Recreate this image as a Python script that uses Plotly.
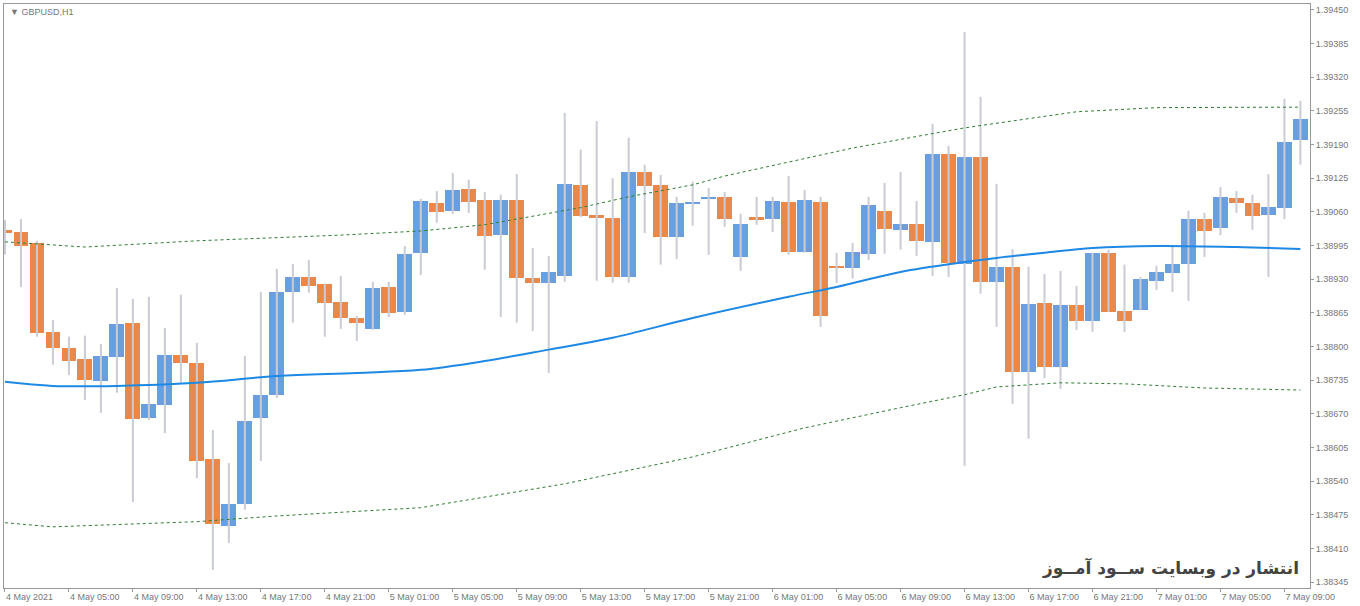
import plotly.graph_objects as go

# GBPUSD H1, 4 May 2021 01:00 onwards (one candle per hour)
opens = [1.39025, 1.39021, 1.39000, 1.38828, 1.38797, 1.38776, 1.38734, 1.38780, 1.38846, 1.38662,
         1.38687, 1.38784, 1.38768, 1.38583, 1.38454, 1.38496, 1.38662, 1.38707, 1.38905, 1.38934,
         1.38921, 1.38886, 1.38855, 1.38834, 1.38915, 1.38867, 1.38981, 1.39077, 1.39062, 1.39104,
         1.39083, 1.39015, 1.39083, 1.38932, 1.38923, 1.38936, 1.39112, 1.39054, 1.39048, 1.38934,
         1.39137, 1.39112, 1.39012, 1.39075, 1.39085, 1.39089, 1.38973, 1.39048, 1.39046, 1.39079,
         1.38983, 1.39079, 1.38956, 1.38952, 1.38979, 1.39062, 1.39025, 1.39037, 1.39002, 1.39172,
         1.38959, 1.39166, 1.38925, 1.38954, 1.38751, 1.38884, 1.38761, 1.38880, 1.38849, 1.38981,
         1.38869, 1.38871, 1.38927, 1.38942, 1.38959, 1.39046, 1.39029, 1.39087, 1.39077, 1.39054,
         1.39068, 1.39199]
highs = [1.39044, 1.39046, 1.39004, 1.38851, 1.38819, 1.38821, 1.38805, 1.38913, 1.38892, 1.38896,
         1.38836, 1.38900, 1.38807, 1.38639, 1.38575, 1.38782, 1.38905, 1.38950, 1.38959, 1.38967,
         1.38921, 1.38936, 1.38859, 1.38925, 1.38925, 1.38994, 1.39085, 1.39100, 1.39135, 1.39122,
         1.39098, 1.39093, 1.39133, 1.38990, 1.38975, 1.39251, 1.39180, 1.39235, 1.39125, 1.39203,
         1.39151, 1.39131, 1.39089, 1.39118, 1.39106, 1.39098, 1.39056, 1.39089, 1.39089, 1.39129,
         1.39102, 1.39089, 1.38981, 1.39000, 1.39089, 1.39116, 1.39137, 1.39081, 1.39230, 1.39187,
         1.39407, 1.39282, 1.39114, 1.38988, 1.38954, 1.38940, 1.38946, 1.38917, 1.38981, 1.38987,
         1.38958, 1.38934, 1.38956, 1.38994, 1.39062, 1.39058, 1.39108, 1.39100, 1.39093, 1.39133,
         1.39278, 1.39274]
lows = [1.38977, 1.38915, 1.38819, 1.38765, 1.38745, 1.38697, 1.38672, 1.38711, 1.38500, 1.38658,
        1.38633, 1.38730, 1.38546, 1.38369, 1.38421, 1.38485, 1.38579, 1.38701, 1.38846, 1.38904,
        1.38819, 1.38834, 1.38811, 1.38832, 1.38857, 1.38861, 1.38938, 1.39039, 1.39056, 1.39058,
        1.38948, 1.38857, 1.38846, 1.38830, 1.38749, 1.38925, 1.39050, 1.38927, 1.38923, 1.38923,
        1.39019, 1.38958, 1.38969, 1.39033, 1.38977, 1.39031, 1.38946, 1.39035, 1.39021, 1.38977,
        1.38981, 1.38838, 1.38923, 1.38931, 1.38967, 1.38979, 1.38987, 1.38975, 1.38936, 1.38934,
        1.38570, 1.38902, 1.38838, 1.38689, 1.38622, 1.38739, 1.38718, 1.38832, 1.38828, 1.38867,
        1.38828, 1.38871, 1.38909, 1.38905, 1.38888, 1.38973, 1.39015, 1.39058, 1.39025, 1.38934,
        1.39046, 1.39151]
closes = [1.39019, 1.38994, 1.38826, 1.38797, 1.38772, 1.38736, 1.38782, 1.38844, 1.38660, 1.38689,
          1.38784, 1.38768, 1.38579, 1.38458, 1.38496, 1.38656, 1.38707, 1.38905, 1.38934, 1.38917,
          1.38884, 1.38855, 1.38846, 1.38913, 1.38865, 1.38979, 1.39081, 1.39060, 1.39102, 1.39079,
          1.39014, 1.39083, 1.38932, 1.38923, 1.38944, 1.39114, 1.39052, 1.39048, 1.38934, 1.39137,
          1.39110, 1.39012, 1.39077, 1.39079, 1.39089, 1.39046, 1.39037, 1.39046, 1.39081, 1.38983,
          1.39083, 1.38859, 1.38952, 1.38983, 1.39073, 1.39027, 1.39037, 1.39004, 1.39172, 1.38961,
          1.39166, 1.38925, 1.38954, 1.38751, 1.38882, 1.38761, 1.38880, 1.38849, 1.38981, 1.38867,
          1.38849, 1.38931, 1.38944, 1.38959, 1.39046, 1.39023, 1.39089, 1.39077, 1.39052, 1.39069,
          1.39195, 1.39239]

# moving average and envelope bands, read at some candle indices
ma_idx = [0, 3, 7, 12, 17, 22, 26, 30, 34, 38, 43, 49, 52, 56, 60, 62, 65, 68, 72, 77, 81]
ma_val = [1.38732, 1.38724, 1.38724, 1.38730, 1.38743, 1.38749, 1.38755, 1.38772, 1.38794, 1.38817,
          1.38855, 1.38896, 1.38915, 1.38944, 1.38963, 1.38971, 1.38981, 1.38990, 1.38994, 1.38992,
          1.38988]
up_idx = [0, 5, 12, 21, 26, 30, 36, 39, 43, 45, 53, 60, 67, 72, 81]
up_val = [1.39002, 1.38992, 1.39004, 1.39015, 1.39023, 1.39035, 1.39068, 1.39089, 1.39112, 1.39129,
          1.39183, 1.39222, 1.39253, 1.39261, 1.39262]
lo_idx = [0, 3, 12, 17, 26, 35, 43, 50, 56, 60, 62, 66, 70, 75, 81]
lo_val = [1.38460, 1.38452, 1.38462, 1.38473, 1.38489, 1.38535, 1.38587, 1.38643, 1.38682, 1.38707,
          1.38722, 1.38730, 1.38728, 1.38720, 1.38716]

tick_idx = list(range(0, 81, 4))
tick_text = ["4 May 2021", "4 May 05:00", "4 May 09:00", "4 May 13:00", "4 May 17:00", "4 May 21:00",
             "5 May 01:00", "5 May 05:00", "5 May 09:00", "5 May 13:00", "5 May 17:00", "5 May 21:00",
             "6 May 01:00", "6 May 05:00", "6 May 09:00", "6 May 13:00", "6 May 17:00", "6 May 21:00",
             "7 May 01:00", "7 May 05:00", "7 May 09:00"]
price_ticks = [1.38345 + 0.00065 * k for k in range(18)]

BULL = "#6a9fdf"
BEAR = "#e8894b"

n = len(opens)
idx = list(range(n))

fig = go.Figure()

# wicks
wx, wy = [], []
for i in idx:
    wx += [i, i, None]
    wy += [lows[i], highs[i], None]
fig.add_trace(go.Scatter(x=wx, y=wy, mode="lines", line=dict(color="#c9ccd5", width=2),
                         hoverinfo="skip", showlegend=False))

# bodies
base = [min(o, c) for o, c in zip(opens, closes)]
height = [max(abs(c - o), 0.00003) for o, c in zip(opens, closes)]
colors = [BULL if c >= o else BEAR for o, c in zip(opens, closes)]
fig.add_trace(go.Bar(x=idx, y=height, base=base, width=0.93, marker=dict(color=colors, line=dict(width=0)),
                     showlegend=False))

fig.add_trace(go.Scatter(x=up_idx, y=up_val, mode="lines", line=dict(color="#2e7d32", width=1, dash="dot"),
                         showlegend=False))
fig.add_trace(go.Scatter(x=lo_idx, y=lo_val, mode="lines", line=dict(color="#2e7d32", width=1, dash="dot"),
                         showlegend=False))
fig.add_trace(go.Scatter(x=ma_idx, y=ma_val, mode="lines", line=dict(color="#1e88e5", width=2, shape="spline"),
                         showlegend=False))

fig.update_xaxes(range=[-0.06, 81.6], tickvals=tick_idx, ticktext=tick_text, ticks="outside", ticklen=3,
                 tickcolor="#999", showgrid=False, showline=True, linecolor="#999", mirror=True,
                 ticklabelposition="outside right", automargin=False,
                 tickfont=dict(size=9, color="#777", family="Liberation Sans"), zeroline=False)
fig.update_yaxes(range=[1.38334, 1.39461], side="right", tickvals=price_ticks,
                 ticktext=["%.5f" % p for p in price_ticks], ticks="outside", ticklen=3, tickcolor="#999",
                 showgrid=False, showline=True, linecolor="#999", mirror=True, automargin=False,
                 tickfont=dict(size=9, color="#777", family="Liberation Sans"), zeroline=False)

fig.update_layout(
    width=1360, height=606,
    margin=dict(l=4, r=50, t=4, b=18),
    paper_bgcolor="white", plot_bgcolor="white",
    font=dict(family="DejaVu Sans"),
    bargap=0,
    annotations=[
        dict(text="▼ GBPUSD,H1", xref="paper", yref="paper", x=0.003, y=0.998, xanchor="left", yanchor="top",
             showarrow=False, font=dict(size=9, color="#777", family="Liberation Sans")),
        dict(text="<b>انتشار در وبسایت ســود آمــوز</b>", xref="paper", yref="paper", x=0.993, y=0.012,
             xanchor="right", yanchor="bottom", showarrow=False, font=dict(size=17, color="#444")),
    ],
)

fig.write_html("out.html", config={"displayModeBar": False},
               post_script="document.body.style.margin='0';document.body.style.overflow='hidden';")
